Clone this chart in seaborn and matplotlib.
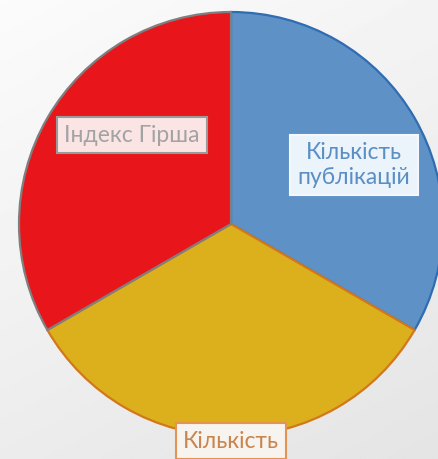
import numpy as np
import matplotlib
matplotlib.use("Agg")
import matplotlib.pyplot as plt
import seaborn as sns

# ── data ────────────────────────────────────────────────────────────
labels = ["Кількість\nпублікацій", "Кількість", "Індекс Гірша"]
shares = [1, 1, 1]

# ── styling ─────────────────────────────────────────────────────────
sns.set_theme(style="white")
plt.rcParams["font.family"] = ["Lato", "DejaVu Sans"]

face_colors = ["#5e92c6", "#dcb01c", "#e8161a"]
edge_colors = ["#2f6cb2", "#d2781a", "#7f7f7f"]
text_colors = ["#5b8fc4", "#c98550", "#a3a3a3"]
box_faces = ["#ebf3fb", "#f7f3ee", "#fbe4e4"]
box_edges = ["#f4f8fc", "#e39452", "#9a9a9a"]
# label centres in pixels (x, y from bottom)
label_pos = [(354, 294), (231, 18), (132, 324)]

W, H = 439, 459
fig = plt.figure(figsize=(W / 100, H / 100), dpi=100)
ax = fig.add_axes([0, 0, 1, 1])

# soft grey background gradient
yy, xx = np.mgrid[0:1:200j, 0:1:200j]
shade = 0.985 - 0.06 * yy - 0.03 * xx
ax.imshow(shade, cmap="gray", vmin=0, vmax=1, extent=(0, W, 0, H),
          origin="upper", zorder=0, aspect="auto")

center = (231, H - 224)
radius = 212
wedges, _ = ax.pie(shares, colors=face_colors, startangle=90, counterclock=False,
                   center=center, radius=radius, frame=True,
                   wedgeprops={"linewidth": 1.6})
for w, ec in zip(wedges, edge_colors):
    w.set_edgecolor(ec)
    w.set_zorder(2)

for lab, (x, y), tc, bf, be in zip(labels, label_pos, text_colors, box_faces, box_edges):
    ax.text(x, y, lab, ha="center", va="center", fontsize=16.5, color=tc,
            linespacing=1.2, zorder=3,
            bbox=dict(boxstyle="square,pad=0.32", facecolor=bf, edgecolor=be, linewidth=1.5))

ax.set_xlim(0, W)
ax.set_ylim(0, H)
ax.set_aspect("auto")
ax.axis("off")

fig.savefig("out.png", dpi=100)
